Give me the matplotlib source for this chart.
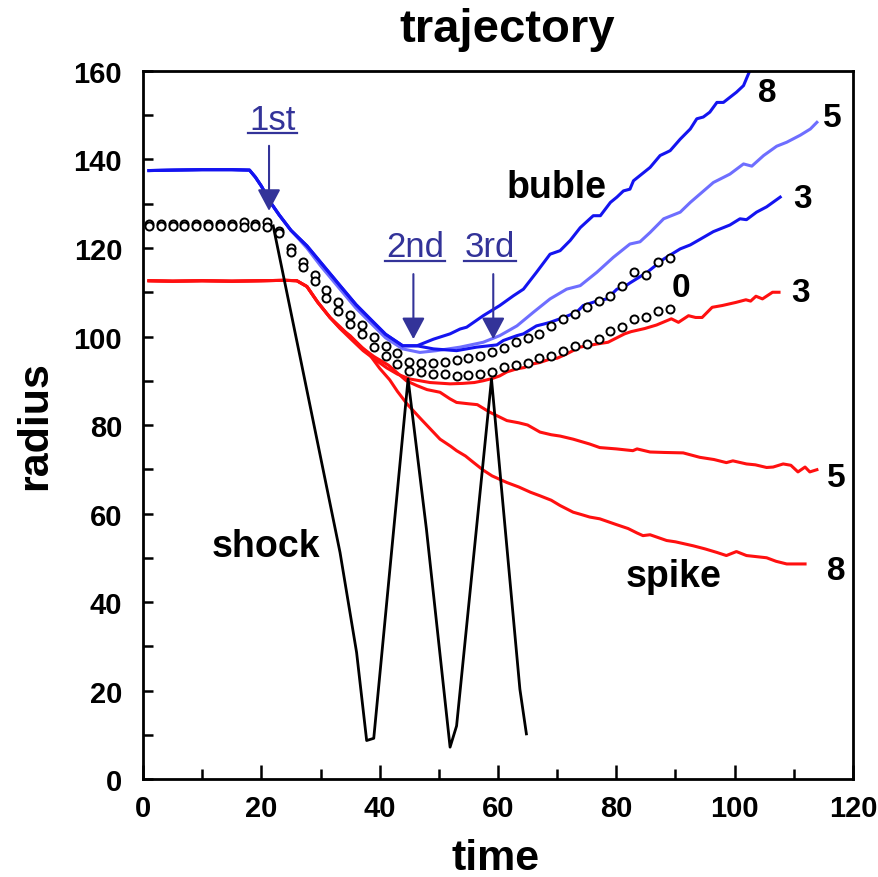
import matplotlib
matplotlib.use('Agg')
import matplotlib.pyplot as plt
from matplotlib.lines import Line2D

plt.rcParams['font.family'] = ['Liberation Sans', 'DejaVu Sans']

# ---- data ----
# blue (bubble) curves: shared flat part + descent
t_blue_start = [1, 5, 10, 15, 18, 19, 20, 21.5, 23, 25, 27.7, 30, 33.3, 36, 38.9, 41, 43.9, 46.3]
r_blue_start = [137.5, 137.6, 137.7, 137.7, 137.6, 136.0, 134.0, 130.4, 127.5, 124.0, 120.5, 116.8,
                111.5, 107.2, 103.3, 100.5, 97.9, 97.9]

t_blue8 = [49.1, 51.9, 53.6, 54.7, 57.5, 60.3, 62.6, 64.3, 66.5, 68.8, 70.5, 72.2, 73.9, 76.1, 77.3,
           79.0, 80.1, 81.2, 82.3, 82.9, 85.7, 87.4, 88.5, 89.1, 90.8, 92.5, 93.6, 94.7, 95.8, 97.0,
           98.1, 100.3, 101.5, 102.6]
r_blue8 = [99.4, 100.6, 101.7, 102.1, 104.7, 107.0, 109.2, 110.7, 114.5, 118.6, 119.4, 121.7, 124.6,
           127.3, 127.3, 130.3, 131.5, 132.9, 133.3, 135.2, 138.2, 140.9, 141.6, 142.0, 144.6, 146.9,
           149.2, 149.6, 150.7, 152.9, 152.9, 155.2, 156.7, 160.2]

t_blue5 = [27.7, 30, 33.3, 36, 38.9, 41, 43.9, 46.8, 49.6, 53.6, 57.5, 60.3, 63.2, 66.0, 68.8, 71.6,
           73.9, 76.7, 79.5, 82.3, 84.0, 85.7, 88.0, 90.8, 92.5, 96.4, 99.2, 101.5, 102.9, 104.9,
           107.1, 108.8, 111.1, 112.8, 113.9]
r_blue5 = [120.0, 116.0, 110.7, 106.4, 102.5, 99.7, 97.2, 96.4, 96.8, 97.6, 98.7, 100.2, 102.4, 105.5,
           108.5, 110.7, 111.5, 114.5, 117.9, 120.9, 121.4, 123.5, 126.6, 128.1, 130.3, 134.8, 136.7,
           139.0, 138.5, 140.9, 143.0, 143.9, 145.5, 146.9, 148.4]

t_blue3 = [49.1, 53.0, 56.4, 59.8, 60.9, 63.2, 64.3, 66.5, 67.7, 68.8, 71.1, 73.3, 74.4, 76.7, 78.4,
           80.1, 81.2, 82.3, 85.2, 88.0, 90.8, 92.5, 94.2, 96.4, 99.2, 100.9, 102.0, 103.7, 105.4, 107.7]
r_blue3 = [97.2, 96.8, 97.6, 98.1, 99.1, 100.2, 100.6, 102.4, 102.8, 103.2, 104.3, 105.5, 107.0, 108.0,
           108.5, 110.7, 111.1, 112.1, 114.5, 117.5, 119.8, 120.7, 122.0, 123.7, 125.2, 126.6, 126.4,
           128.1, 129.3, 131.5]

# red (spike) curves: shared flat part
t_red_start = [1, 5, 10, 15, 20, 24, 26, 27.7, 29.5, 31.6]
r_red_start = [112.6, 112.5, 112.6, 112.5, 112.6, 112.7, 112.6, 111.3, 107.8, 104.3]

t_red3 = [33.3, 35, 37.2, 39, 41.2, 43, 45.1, 48.5, 51.9, 54, 56, 57.5, 59, 60.3, 61.5, 63.2, 64.5,
          65.5, 67, 68.8, 70, 71.5, 73.85, 76.7, 78.6, 81.4, 82.5, 84.8, 86.8, 89.3, 90.5, 92.2, 93.4,
          94.5, 96.2, 97.9, 100.2, 101.9, 102.7, 103.6, 104.7, 106.4, 107.5]
r_red3 = [101.8, 99.6, 96.8, 95.0, 92.9, 91.5, 90.4, 89.6, 89.3, 89.4, 89.6, 90.0, 90.5, 91.1, 92.0,
          92.7, 93.0, 93.7, 94.1, 94.9, 95.1, 96.0, 97.6, 98.3, 98.7, 100.6, 101.1, 101.8, 102.6,
          104.0, 103.2, 104.7, 104.3, 104.3, 106.6, 107.0, 107.7, 108.3, 108.0, 109.1, 108.5, 110.0, 110.0]

t_red5 = [33.3, 35, 37, 39, 41.5, 44.5, 46.3, 48, 50.2, 51.9, 53, 55, 56.5, 58.6, 61.5, 63.5, 65,
          67.1, 69, 70.5, 72.7, 75.5, 77.2, 80, 82.8, 83.5, 85.7, 88, 91.3, 94.1, 96.5, 98.6, 99.7,
          102, 103.5, 105.4, 106.5, 108.2, 109.5, 110.7, 111.9, 112.7, 113.9]
r_red5 = [102.2, 100.0, 97.5, 95.5, 93.5, 90.0, 88.9, 88.0, 87.4, 85.9, 85.1, 84.8, 84.6, 82.9, 81.0,
          80.5, 80.0, 78.4, 77.8, 77.5, 76.8, 75.7, 74.9, 74.6, 74.2, 74.6, 73.9, 73.8, 73.7, 72.7,
          72.2, 71.5, 71.9, 71.2, 71.0, 70.4, 70.5, 71.2, 70.9, 69.4, 70.5, 69.4, 69.9]

t_red8 = [33.3, 35, 36.5, 38.4, 40, 41.7, 43, 44.6, 46.8, 48.5, 50.2, 52, 53, 54.5, 55.8, 57.5, 59,
          60.5, 61.5, 63.5, 65.5, 67.1, 69, 70.5, 72.7, 74, 75.5, 77.2, 80, 82, 83.5, 84.5, 85.7,
          88.5, 90, 93, 95, 97, 98.6, 100.3, 102, 105.4, 107, 108.8, 110, 111.9]
r_red8 = [101.9, 100.2, 98.2, 95.7, 92.8, 90.2, 87.6, 84.8, 81.6, 79.2, 76.8, 75.2, 74.2, 73.0, 71.6,
          69.8, 68.5, 67.6, 67.0, 66.0, 64.8, 64.0, 63.0, 61.8, 60.3, 59.8, 59.2, 58.8, 57.5, 56.6,
          55.6, 55.0, 55.2, 53.9, 53.6, 52.7, 52.0, 51.2, 50.5, 51.4, 50.5, 50.0, 49.2, 48.6, 48.6, 48.6]

# unperturbed interface (open circles, two rows)
t_circ = [1, 3, 5, 7, 9, 11, 13, 15, 17, 19, 21, 23, 25, 27, 29, 31, 33, 35, 37, 39, 41, 43, 45,
          47, 49, 51, 53, 55, 57, 59, 61, 63, 65, 67, 69, 71, 73, 75, 77, 79, 81, 83, 85, 87, 89]
r_circ_up = [125.4, 125.4, 125.4, 125.4, 125.4, 125.4, 125.4, 125.4, 125.8, 125.4, 125.8, 123.9,
             120.1, 116.9, 113.9, 110.6, 107.7, 104.9, 102.6, 100.0, 97.9, 96.3, 94.3, 94.1, 94.1,
             94.3, 94.8, 95.1, 95.5, 96.4, 97.5, 98.7, 99.6, 100.6, 102.4, 104.0, 105.1, 106.6,
             108.1, 109.2, 111.5, 114.5, 113.9, 116.9, 117.7]
r_circ_lo = [125.0, 125.0, 125.0, 125.0, 125.0, 125.0, 125.0, 125.0, 124.8, 125.0, 124.8, 123.5,
             119.1, 115.6, 112.6, 108.8, 105.8, 102.8, 100.5, 97.7, 95.7, 93.8, 92.1, 91.9, 91.5,
             91.5, 91.1, 91.3, 91.5, 92.0, 93.0, 93.6, 94.1, 95.1, 95.7, 96.8, 97.9, 98.3, 99.4,
             101.3, 102.1, 103.9, 104.4, 105.7, 106.2]

# shock trajectory
t_shock = [22, 26.5, 33.3, 36.1, 37.8, 39.0, 44.8, 47.9, 51.9, 53.0, 58.9, 63.7, 64.8]
r_shock = [125, 95.7, 51.2, 28.6, 8.7, 9.2, 90.4, 56.5, 7.2, 12.0, 90.4, 20.3, 10.2]

xticks = [0, 20, 40, 60, 80, 100, 120]
yticks = [0, 20, 40, 60, 80, 100, 120, 140, 160]

blue = '#1414f0'
lblue = '#6e6eff'
red = '#ff1010'
navy = '#333399'

fig = plt.figure(figsize=(8.79, 8.78), dpi=100)
ax = fig.add_axes([0.1627, 0.1116, 0.8077, 0.8064])

lw = 2.2
ax.plot(t_red_start + t_red8, r_red_start + r_red8, color=red, lw=lw)
ax.plot(t_red_start + t_red5, r_red_start + r_red5, color=red, lw=lw)
ax.plot(t_red_start + t_red3, r_red_start + r_red3, color=red, lw=lw)
ax.plot(t_blue_start[:10] + t_blue5, r_blue_start[:10] + r_blue5, color=lblue, lw=lw)
ax.plot(t_blue_start + t_blue3, r_blue_start + r_blue3, color=blue, lw=lw)
ax.plot(t_blue_start + t_blue8, r_blue_start + r_blue8, color=blue, lw=lw)
ax.plot(t_shock, r_shock, color='black', lw=2)
for rc in (r_circ_up, r_circ_lo):
    ax.plot(t_circ, rc, ls='none', marker='o', ms=5.8, mfc='white', mec='black', mew=1.4)

ax.set_xlim(0, 120)
ax.set_ylim(0, 160)
ax.set_xticks(xticks)
ax.set_yticks(yticks)
ax.set_xticks([10, 30, 50, 70, 90, 110], minor=True)
ax.set_yticks([10, 30, 50, 70, 90, 110, 130, 150], minor=True)
ax.set_xticklabels([str(v) for v in xticks], fontsize=21, fontweight='bold')
ax.set_yticklabels([str(v) for v in yticks], fontsize=21, fontweight='bold')
ax.tick_params(axis='x', which='major', direction='in', length=10, width=1.8, pad=11)
ax.tick_params(axis='x', which='minor', direction='in', length=7, width=1.8)
ax.tick_params(axis='y', which='both', direction='in', length=7, width=1.8, pad=15)
for s in ax.spines.values():
    s.set_linewidth(2)

ax.text(0.513, 1.043, 'trajectory', transform=ax.transAxes, ha='center', va='baseline',
        fontsize=34, fontweight='bold')
ax.text(0.496, -0.127, 'time', transform=ax.transAxes, ha='center', va='baseline',
        fontsize=31, fontweight='bold')
ax.text(-0.152, 0.5, 'radius', transform=ax.transAxes, ha='center', va='center',
        rotation=90, fontsize=31, fontweight='bold')

# curve labels
for x, y, s in [(69.9, 131.5, 'buble'), (20.8, 50.3, 'shock'), (89.6, 43.7, 'spike')]:
    ax.text(x, y, s, ha='center', va='baseline', fontsize=27, fontweight='bold')
for x, y, s in [(105.5, 153.3, '8'), (116.5, 147.6, '5'), (111.4, 129.2, '3'), (90.9, 109.2, '0'),
                (111.2, 108.1, '3'), (117.2, 66.3, '5'), (117.2, 45.2, '8')]:
    ax.text(x, y, s, ha='center', va='baseline', fontsize=24, fontweight='bold')

# interaction arrows
arrows = [(21.9, 146.9, '1st', 21.3, 143.1, 128.4),
          (46.05, 118.1, '2nd', 45.7, 114.1, 99.4),
          (58.7, 118.1, '3rd', 59.2, 114.1, 99.4)]
ord_texts = []
for tx, ty, s, ax_x, y0, y1 in arrows:
    t = ax.text(tx, ty, s, ha='center', va='baseline', fontsize=25, color=navy)
    ord_texts.append((t, tx, ty))
    ax.annotate('', xy=(ax_x, y1), xytext=(ax_x, y0),
                arrowprops=dict(arrowstyle='-|>,head_length=0.6,head_width=0.32',
                                color=navy, lw=1.5, mutation_scale=22, shrinkA=0, shrinkB=0))

fig.canvas.draw()
r = fig.canvas.get_renderer()
for t, tx, ty in ord_texts:
    bb = t.get_window_extent(r)
    yb = ax.transData.transform((tx, ty))[1] - 4.5
    fig.add_artist(Line2D([bb.x0 - 1, bb.x1 + 1], [yb, yb], transform=None, color=navy, lw=1.6))

fig.savefig('out.png', dpi=100)
